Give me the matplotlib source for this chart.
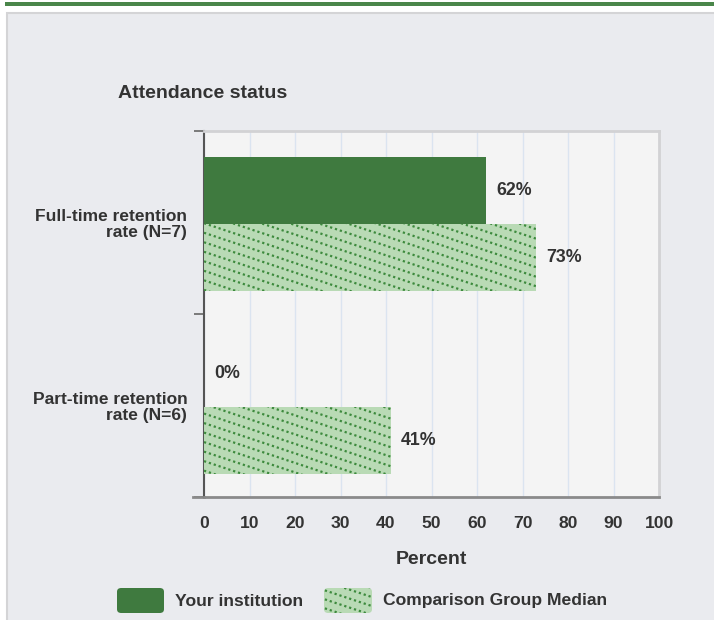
import numpy as np
import matplotlib.pyplot as plt
from matplotlib.patches import Rectangle, FancyBboxPatch
from matplotlib.lines import Line2D

plt.rcParams['font.family'] = ['Liberation Sans', 'DejaVu Sans']

# Data
categories = ['Full-time retention\nrate (N=7)', 'Part-time retention\nrate (N=6)']
institution = [62, 0]
comparison = [73, 41]
x_ticks = [0, 10, 20, 30, 40, 50, 60, 70, 80, 90, 100]

dark_green = '#3f7a3f'
light_green = '#b9dab5'
dot_green = '#3d8a3d'
text_col = '#333333'
panel_bg = '#eaebef'

fig = plt.figure(figsize=(7.14, 6.2), dpi=100)
fig.patch.set_facecolor('white')

# top green band and grey panel (behind the axes)
fig.add_artist(Rectangle((5 / 714, 1 - 6 / 620), 709 / 714, 4 / 620,
                         transform=fig.transFigure, color='#4a864a', lw=0, zorder=-2))
fig.add_artist(Rectangle((7 / 714, -0.01), 0.995, 1 - 13 / 620 + 0.01,
                         transform=fig.transFigure, facecolor=panel_bg,
                         edgecolor='#d4d4d6', lw=1.5, zorder=-2))

ax = fig.add_axes([204 / 714, 1 - 497 / 620, 455 / 714, 366 / 620])
ax.set_facecolor('#f4f4f4')

y = np.arange(len(categories))
h = 0.366
bars_inst = ax.barh(y - h / 2 + 0.006, institution, height=h, color=dark_green, zorder=3)
bars_comp = ax.barh(y + h / 2 + 0.006, comparison, height=h, color=light_green, zorder=3)

# dotted shallow diagonal hatch on comparison bars
for bar in bars_comp:
    for b in np.arange(-0.5, 1.6, 0.026):
        ln = Line2D([0, 1], [b, b - 0.414], transform=ax.transAxes, color=dot_green,
                    lw=1.6, linestyle=(0, (1.0, 1.3)), zorder=4)
        ax.add_line(ln)
        ln.set_clip_path(bar.get_path(), bar.get_transform())

# value labels
for bars, vals in [(bars_inst, institution), (bars_comp, comparison)]:
    for bar, v in zip(bars, vals):
        ax.text(v + 2.3, bar.get_y() + bar.get_height() / 2, f'{v}%',
                va='center', ha='left', fontsize=12.8, fontweight='bold', color=text_col)

ax.set_xlim(0, 100)
ax.set_ylim(1.5, -0.5)
ax.set_xticks(x_ticks)
ax.set_xticklabels([str(t) for t in x_ticks], fontsize=12.6, fontweight='bold', color=text_col)
ax.tick_params(axis='x', length=0, pad=13.5)
ax.grid(axis='x', color='#dbe4f0', lw=1, zorder=1)
ax.set_axisbelow(True)

ax.set_yticks([-0.5, 0.5, 1.5])
ax.set_yticklabels([])
ax.tick_params(axis='y', which='major', length=7, width=1.2, color='#666666', direction='out')
ax.set_yticks(y, minor=True)
ax.set_yticklabels(categories, minor=True, fontsize=12.5, fontweight='bold', color=text_col,
                   linespacing=1.05)
ax.tick_params(axis='y', which='minor', length=0, pad=12)

for s in ['top', 'right']:
    ax.spines[s].set_color('#d2d2d4')
    ax.spines[s].set_linewidth(2)
ax.spines['left'].set_color('#555555')
ax.spines['left'].set_linewidth(1.5)
ax.spines['bottom'].set_color('#8a8a8a')
ax.spines['bottom'].set_linewidth(2)
ax.plot([-0.024, 0], [0, 0], transform=ax.transAxes, color='#8a8a8a', lw=2, clip_on=False)

ax.set_xlabel('Percent', fontsize=14, fontweight='bold', color=text_col, labelpad=14.5)

fig.text(118 / 714, 1 - 93 / 620, 'Attendance status', fontsize=14, fontweight='bold',
         color=text_col, ha='left', va='center')

# legend
leg1 = FancyBboxPatch((117 / 714, 1 - 613 / 620), 47 / 714, 25 / 620,
                      boxstyle='round,pad=0,rounding_size=0.006', transform=fig.transFigure,
                      facecolor=dark_green, edgecolor='none')
fig.add_artist(leg1)
fig.text(175 / 714, 1 - 601 / 620, 'Your institution', fontsize=12.6, fontweight='bold',
         color=text_col, ha='left', va='center')
leg2 = FancyBboxPatch((324 / 714, 1 - 613 / 620), 48 / 714, 25 / 620,
                      boxstyle='round,pad=0,rounding_size=0.006', transform=fig.transFigure,
                      facecolor=light_green, edgecolor='none')
fig.add_artist(leg2)
for b in np.arange(0.15, 0.32, 0.0145):
    ln = Line2D([0, 1], [b, b - 0.384], transform=fig.transFigure, color=dot_green,
                lw=1.6, linestyle=(0, (1.0, 1.3)), zorder=3)
    ln.set_clip_path(leg2)
    fig.add_artist(ln)
fig.text(383 / 714, 1 - 601 / 620, 'Comparison Group Median', fontsize=12.6, fontweight='bold',
         color=text_col, ha='left', va='center')

plt.savefig('out.png', dpi=100)
